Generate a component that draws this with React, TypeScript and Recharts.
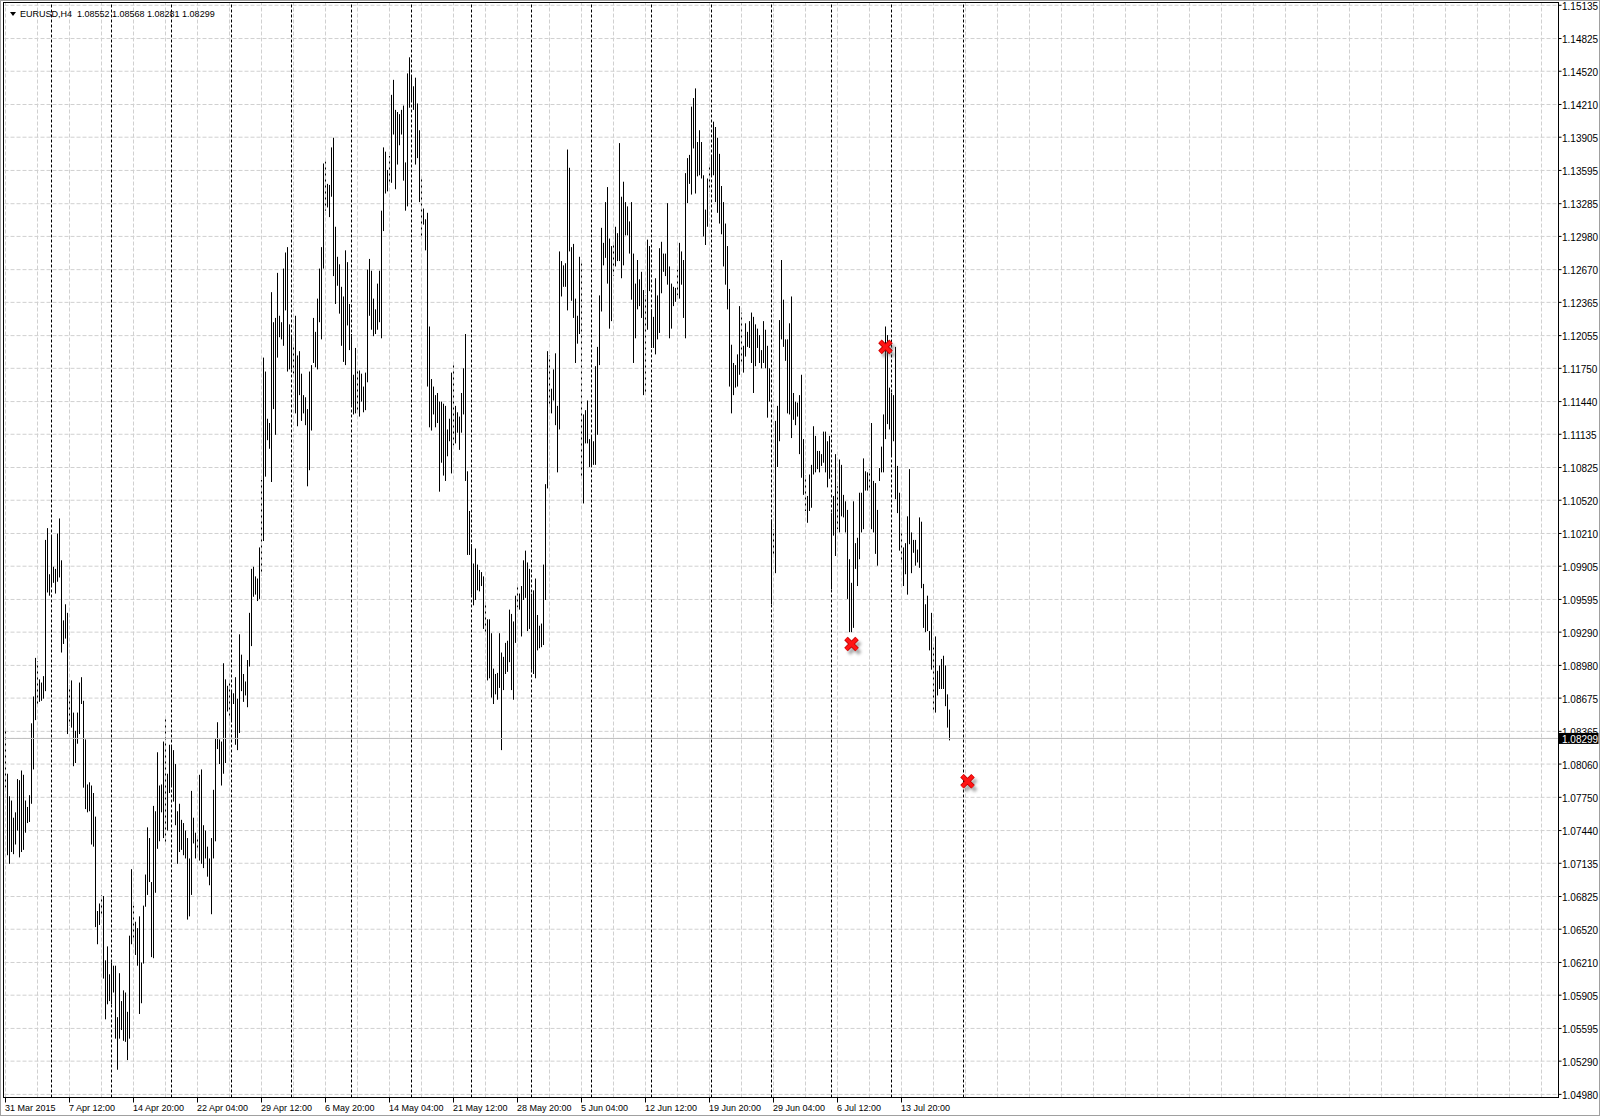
import React from 'react'
import {
  ComposedChart,
  Bar,
  Scatter,
  XAxis,
  YAxis,
  CartesianGrid,
  ReferenceLine,
} from 'recharts'

const SYMBOL = 'EURUSD,H4'
const LAST_OHLC = ['1.08552', '1.08568', '1.08281', '1.08299']
const BID = 1.08299

// H4 bars, 31 Mar 2015 04:00 .. 17 Jul 2015 20:00
const highs = [
  1.0839, 1.0797, 1.0776, 1.0772, 1.0756, 1.0761, 1.0792, 1.0791, 1.0800, 1.0796,
  1.0772, 1.0766, 1.0777, 1.0844, 1.0869, 1.0905, 1.0902, 1.0885, 1.0882, 1.0888,
  1.1015, 1.1026, 1.0983, 1.1018, 1.0990, 1.0988, 1.1021, 1.1035, 1.0996, 1.0940,
  1.0955, 1.0947, 1.0879, 1.0884, 1.0854, 1.0837, 1.0854, 1.0882, 1.0887, 1.0865,
  1.0829, 1.0787, 1.0789, 1.0786, 1.0779, 1.0757, 1.0669, 1.0676, 1.0684, 1.0683,
  1.0623, 1.0636, 1.0610, 1.0621, 1.0618, 1.0618, 1.0570, 1.0611, 1.0585, 1.0595,
  1.0593, 1.0575, 1.0646, 1.0708, 1.0674, 1.0659, 1.0653, 1.0664, 1.0621, 1.0674,
  1.0703, 1.0747, 1.0737, 1.0696, 1.0767, 1.0762, 1.0817, 1.0786, 1.0787, 1.0827,
  1.0849, 1.0797, 1.0824, 1.0822, 1.0819, 1.0806, 1.0762, 1.0769, 1.0754, 1.0751,
  1.0744, 1.0737, 1.0718, 1.0781, 1.0756, 1.0742, 1.0739, 1.0796, 1.0801, 1.0749,
  1.0744, 1.0729, 1.0718, 1.0737, 1.0782, 1.0830, 1.0845, 1.0829, 1.0827, 1.0900,
  1.0885, 1.0879, 1.0884, 1.0874, 1.0872, 1.0887, 1.0867, 1.0927, 1.0908, 1.0890,
  1.0883, 1.0903, 1.0947, 1.0988, 1.0990, 1.0981, 1.0979, 1.1008, 1.1071, 1.1185,
  1.1172, 1.1128, 1.1124, 1.1246, 1.1218, 1.1222, 1.1264, 1.1224, 1.1218, 1.1268,
  1.1283, 1.1288, 1.1216, 1.1205, 1.1196, 1.1224, 1.1187, 1.1191, 1.1170, 1.1150,
  1.1148, 1.1137, 1.1172, 1.1178, 1.1222, 1.1209, 1.1240, 1.1268, 1.1288, 1.1366,
  1.1368, 1.1347, 1.1346, 1.1381, 1.1390, 1.1307, 1.1279, 1.1272, 1.1251, 1.1242,
  1.1285, 1.1274, 1.1235, 1.1207, 1.1169, 1.1194, 1.1174, 1.1173, 1.1170, 1.1158,
  1.1171, 1.1267, 1.1277, 1.1266, 1.1240, 1.1230, 1.1254, 1.1266, 1.1322, 1.1381,
  1.1377, 1.1360, 1.1373, 1.1430, 1.1444, 1.1416, 1.1414, 1.1412, 1.1416, 1.1420,
  1.1367, 1.1450, 1.1465, 1.1448, 1.1438, 1.1446, 1.1422, 1.1397, 1.1354, 1.1324,
  1.1314, 1.1320, 1.1214, 1.1165, 1.1158, 1.1150, 1.1152, 1.1144, 1.1144, 1.1142,
  1.1140, 1.1118, 1.1128, 1.1171, 1.1179, 1.1140, 1.1134, 1.1130, 1.1152, 1.1175,
  1.1207, 1.1079, 1.1042, 1.1011, 1.0993, 1.1007, 1.0992, 1.0987, 1.0985, 1.0981,
  1.0957, 1.0941, 1.0941, 1.0928, 1.0895, 1.0890, 1.0891, 1.0928, 1.0910, 1.0906,
  1.0919, 1.0921, 1.0950, 1.0946, 1.0939, 1.0963, 1.0974, 1.0965, 1.0972, 1.0996,
  1.1005, 1.0994, 1.0988, 1.0965, 1.0968, 1.0979, 1.0945, 1.0935, 1.0937, 1.0992,
  1.1067, 1.1191, 1.1187, 1.1156, 1.1174, 1.1189, 1.1140, 1.1284, 1.1275, 1.1271,
  1.1273, 1.1379, 1.1362, 1.1288, 1.1291, 1.1240, 1.1224, 1.1279, 1.1273, 1.1132,
  1.1136, 1.1145, 1.1109, 1.1112, 1.1107, 1.1177, 1.1195, 1.1243, 1.1306, 1.1292,
  1.1330, 1.1344, 1.1296, 1.1289, 1.1290, 1.1307, 1.1301, 1.1385, 1.1335, 1.1349,
  1.1330, 1.1326, 1.1312, 1.1330, 1.1282, 1.1254, 1.1276, 1.1258, 1.1265, 1.1248,
  1.1243, 1.1295, 1.1289, 1.1230, 1.1223, 1.1259, 1.1243, 1.1287, 1.1293, 1.1282,
  1.1282, 1.1329, 1.1270, 1.1254, 1.1251, 1.1250, 1.1267, 1.1292, 1.1284, 1.1276,
  1.1357, 1.1371, 1.1374, 1.1419, 1.1427, 1.1436, 1.1386, 1.1397, 1.1386, 1.1355,
  1.1323, 1.1352, 1.1365, 1.1374, 1.1405, 1.1400, 1.1390, 1.1375, 1.1345, 1.1330,
  1.1310, 1.1289, 1.1249, 1.1197, 1.1180, 1.1178, 1.1188, 1.1233, 1.1227, 1.1196,
  1.1217, 1.1209, 1.1219, 1.1227, 1.1223, 1.1216, 1.1212, 1.1206, 1.1192, 1.1219,
  1.1211, 1.1196, 1.1175, 1.1034, 1.1025, 1.1126, 1.1140, 1.1220, 1.1276, 1.1239,
  1.1202, 1.1202, 1.1217, 1.1242, 1.1152, 1.1144, 1.1143, 1.1150, 1.1169, 1.1109,
  1.1075, 1.1056, 1.1076, 1.1085, 1.1121, 1.1112, 1.1098, 1.1098, 1.1095, 1.1116,
  1.1116, 1.1107, 1.1112, 1.1040, 1.1056, 1.1095, 1.1065, 1.1090, 1.1085, 1.1057,
  1.1051, 1.1043, 1.0997, 1.0975, 1.1051, 1.1012, 1.1017, 1.1059, 1.1059, 1.1091,
  1.1079, 1.1078, 1.1081, 1.1124, 1.1070, 1.1068, 1.1043, 1.1082, 1.1102, 1.1132,
  1.1214, 1.1206, 1.1157, 1.1152, 1.1150, 1.1195, 1.1084, 1.1059, 1.1023, 1.1008,
  1.1012, 1.1037, 1.1081, 1.1022, 1.1015, 1.1015, 1.1006, 1.1036, 1.1032, 1.0974,
  1.0955, 1.0963, 1.0930, 1.0947, 1.0915, 1.0925, 1.0893, 1.0898, 1.0904, 1.0907,
  1.0898, 1.0871, 1.08568,
]

const lows = [
  1.0784, 1.0721, 1.0713, 1.0724, 1.0722, 1.0731, 1.0744, 1.0719, 1.0724, 1.0726,
  1.0742, 1.0751, 1.0752, 1.0769, 1.0801, 1.0847, 1.0862, 1.0864, 1.0865, 1.0867,
  1.0874, 1.0966, 1.0963, 1.0973, 1.0975, 1.0965, 1.0976, 1.0980, 1.0910, 1.0918,
  1.0923, 1.0834, 1.0842, 1.0840, 1.0804, 1.0807, 1.0825, 1.0834, 1.0862, 1.0784,
  1.0764, 1.0761, 1.0762, 1.0731, 1.0729, 1.0654, 1.0638, 1.0656, 1.0666, 1.0606,
  1.0568, 1.0582, 1.0585, 1.0582, 1.0593, 1.0550, 1.0521, 1.0550, 1.0558, 1.0548,
  1.0547, 1.0530, 1.0550, 1.0638, 1.0644, 1.0628, 1.0618, 1.0573, 1.0583, 1.0620,
  1.0673, 1.0684, 1.0696, 1.0626, 1.0625, 1.0686, 1.0727, 1.0734, 1.0761, 1.0737,
  1.0732, 1.0744, 1.0779, 1.0786, 1.0771, 1.0749, 1.0713, 1.0724, 1.0726, 1.0721,
  1.0718, 1.0661, 1.0664, 1.0684, 1.0732, 1.0718, 1.0726, 1.0716, 1.0713, 1.0709,
  1.0718, 1.0701, 1.0693, 1.0666, 1.0718, 1.0734, 1.0820, 1.0806, 1.0786, 1.0797,
  1.0807, 1.0855, 1.0850, 1.0847, 1.0862, 1.0824, 1.0819, 1.0835, 1.0874, 1.0864,
  1.0870, 1.0859, 1.0897, 1.0916, 1.0962, 1.0964, 1.0958, 1.0960, 1.0982, 1.1014,
  1.1074, 1.1108, 1.1100, 1.1069, 1.1137, 1.1113, 1.1185, 1.1204, 1.1202, 1.1196,
  1.1229, 1.1172, 1.1174, 1.1174, 1.1170, 1.1133, 1.1121, 1.1150, 1.1126, 1.1133,
  1.1122, 1.1065, 1.1080, 1.1117, 1.1180, 1.1176, 1.1174, 1.1218, 1.1202, 1.1268,
  1.1322, 1.1325, 1.1316, 1.1335, 1.1261, 1.1235, 1.1252, 1.1226, 1.1196, 1.1181,
  1.1178, 1.1215, 1.1192, 1.1141, 1.1132, 1.1133, 1.1135, 1.1130, 1.1144, 1.1134,
  1.1136, 1.1162, 1.1224, 1.1211, 1.1205, 1.1207, 1.1211, 1.1218, 1.1203, 1.1303,
  1.1338, 1.1340, 1.1346, 1.1348, 1.1393, 1.1342, 1.1365, 1.1383, 1.1393, 1.1350,
  1.1322, 1.1326, 1.1418, 1.1424, 1.1416, 1.1365, 1.1371, 1.1330, 1.1297, 1.1309,
  1.1285, 1.1158, 1.1120, 1.1117, 1.1132, 1.1120, 1.1124, 1.1060, 1.1087, 1.1075,
  1.1070, 1.1093, 1.1107, 1.1077, 1.1103, 1.1105, 1.1115, 1.1099, 1.1115, 1.1132,
  1.1070, 1.1001, 1.1001, 1.0964, 1.0954, 1.0959, 1.0968, 1.0967, 1.0972, 1.0932,
  1.0928, 1.0884, 1.0886, 1.0868, 1.0862, 1.0871, 1.0866, 1.0877, 1.0819, 1.0875,
  1.0890, 1.0892, 1.0901, 1.0875, 1.0866, 1.0919, 1.0952, 1.0950, 1.0925, 1.0959,
  1.0961, 1.0930, 1.0932, 1.0894, 1.0890, 1.0886, 1.0912, 1.0914, 1.0915, 1.0917,
  1.0959, 1.1063, 1.1140, 1.1133, 1.1145, 1.1122, 1.1078, 1.1118, 1.1242, 1.1251,
  1.1251, 1.1229, 1.1284, 1.1238, 1.1222, 1.1180, 1.1198, 1.1207, 1.1074, 1.1049,
  1.1105, 1.1105, 1.1083, 1.1084, 1.1085, 1.1085, 1.1113, 1.1178, 1.1228, 1.1271,
  1.1278, 1.1254, 1.1212, 1.1219, 1.1261, 1.1270, 1.1275, 1.1275, 1.1259, 1.1271,
  1.1299, 1.1299, 1.1282, 1.1239, 1.1180, 1.1203, 1.1230, 1.1233, 1.1222, 1.1150,
  1.1152, 1.1211, 1.1247, 1.1194, 1.1194, 1.1188, 1.1202, 1.1208, 1.1245, 1.1265,
  1.1261, 1.1253, 1.1203, 1.1212, 1.1233, 1.1237, 1.1243, 1.1240, 1.1253, 1.1222,
  1.1203, 1.1329, 1.1347, 1.1337, 1.1380, 1.1338, 1.1354, 1.1355, 1.1352, 1.1298,
  1.1290, 1.1307, 1.1340, 1.1355, 1.1355, 1.1330, 1.1320, 1.1310, 1.1300, 1.1270,
  1.1253, 1.1230, 1.1158, 1.1133, 1.1150, 1.1157, 1.1158, 1.1169, 1.1179, 1.1171,
  1.1186, 1.1195, 1.1194, 1.1180, 1.1152, 1.1177, 1.1194, 1.1180, 1.1175, 1.1180,
  1.1175, 1.1129, 1.1144, 1.0955, 1.0999, 1.0984, 1.1083, 1.1107, 1.1202, 1.1195,
  1.1182, 1.1133, 1.1132, 1.1110, 1.1127, 1.1122, 1.1130, 1.1095, 1.1073, 1.1057,
  1.1042, 1.1031, 1.1042, 1.1045, 1.1076, 1.1078, 1.1081, 1.1078, 1.1084, 1.1087,
  1.1078, 1.1064, 1.1072, 1.0969, 1.1019, 1.1000, 1.1025, 1.1022, 1.1037, 1.1036,
  1.1022, 1.0960, 1.0929, 1.0929, 1.0933, 1.0988, 1.0972, 1.0997, 1.1022, 1.1025,
  1.1061, 1.1061, 1.1062, 1.1025, 1.1022, 1.1002, 1.0991, 1.1070, 1.1078, 1.1078,
  1.1109, 1.1123, 1.1118, 1.1093, 1.1107, 1.1053, 1.1040, 1.1005, 1.0995, 1.0972,
  1.0983, 1.0964, 1.1011, 1.0984, 1.1003, 1.0991, 1.0994, 1.0989, 1.0970, 1.0933,
  1.0929, 1.0930, 1.0912, 1.0894, 1.0854, 1.0854, 1.0870, 1.0876, 1.0876, 1.0876,
  1.0860, 1.0840, 1.08281,
]

const priceTicks = [
  1.15135, 1.14825, 1.1452, 1.1421, 1.13905, 1.13595, 1.13285, 1.1298, 1.1267,
  1.12365, 1.12055, 1.1175, 1.1144, 1.11135, 1.10825, 1.1052, 1.1021, 1.09905,
  1.09595, 1.0929, 1.0898, 1.08675, 1.08365, 1.0806, 1.0775, 1.0744, 1.07135,
  1.06825, 1.0652, 1.0621, 1.05905, 1.05595, 1.0529, 1.0498,
]

// bar index of each time label
const labelBars = [0, 32, 64, 96, 128, 160, 192, 224, 256, 288, 320, 352, 384, 416, 448]
const timeLabels = [
  '31 Mar 2015', '7 Apr 12:00', '14 Apr 20:00', '22 Apr 04:00', '29 Apr 12:00',
  '6 May 20:00', '14 May 04:00', '21 May 12:00', '28 May 20:00', '5 Jun 04:00',
  '12 Jun 12:00', '19 Jun 20:00', '29 Jun 04:00', '6 Jul 12:00', '13 Jul 20:00',
]

// Monday 00:00 bars (period separators)
const weekStarts = [23, 53, 83, 113, 143, 173, 203, 233, 263, 293, 323, 353, 383, 413, 443]
const userLineBar = 479

const markBars = [423, 440, 481]
const markPrices = [1.0918, 1.1195, 1.079]

const TOTAL_SLOTS = 777
const gridBars = Array.from({ length: 49 }, (_, k) => k * 16)

const bars = highs.map((h, i) => ({ i, range: [lows[i], h] }))
const marks = markBars.map((i, k) => ({ i, p: markPrices[k] }))

const GRID = '#d0d0d0'

function HiLoBar(props: any) {
  const { x, y, width, height } = props
  if (x == null || y == null) return null
  const top = Math.min(y, y + height)
  const h = Math.max(Math.abs(height), 1)
  return <rect x={Math.floor(x + width / 2 + 0.25)} y={top} width={1} height={h} fill="#000" />
}

function CrossMark(props: any) {
  const { cx, cy } = props
  if (cx == null || cy == null) return null
  const s = 5.5
  const d = (ox: number, oy: number) =>
    `M${cx - s + ox},${cy - s + oy}L${cx + s + ox},${cy + s + oy}` +
    `M${cx + s + ox},${cy - s + oy}L${cx - s + ox},${cy + s + oy}`
  return (
    <g>
      <defs>
        <filter id="markShadow" x="-50%" y="-50%" width="200%" height="200%">
          <feGaussianBlur stdDeviation="1.4" />
        </filter>
      </defs>
      <path d={d(3, 4)} stroke="#555" strokeWidth={4.5} opacity={0.5} filter="url(#markShadow)" />
      <path d={d(0, 0)} stroke="#c00000" strokeWidth={5} />
      <path d={d(0, 0)} stroke="#ff1414" strokeWidth={3.4} />
    </g>
  )
}

function PriceTick(props: any) {
  const { x, y, payload } = props
  const v = payload.value
  if (v === BID) {
    return (
      <g>
        <rect x={x} y={y - 5.5} width={40} height={11} fill="#000" />
        <text x={x + 3.5} y={y + 1} dy="0.35em" fontSize={10} fill="#fff">
          {v.toFixed(5)}
        </text>
      </g>
    )
  }
  return (
    <g>
      <line x1={x} x2={x + 3} y1={y} y2={y} stroke="#000" />
      <text x={x + 3.5} y={y + 1} dy="0.35em" fontSize={10} fill="#000">
        {v.toFixed(5)}
      </text>
    </g>
  )
}

function TimeTick(props: any) {
  const { x, y, payload } = props
  const k = labelBars.indexOf(payload.value)
  return (
    <g>
      <line x1={x} x2={x} y1={y} y2={y + 5} stroke="#000" />
      <text x={x - 0.5} y={y + 13} fontSize={9} fill="#000">
        {timeLabels[k]}
      </text>
    </g>
  )
}

export default function App() {
  return (
    <div
      style={{
        position: 'relative',
        width: 1600,
        height: 1118,
        background: '#fff',
        fontFamily: '"Liberation Sans", Arial, sans-serif',
      }}
    >
      <style>{'body{margin:0}'}</style>
      <ComposedChart
        width={1600}
        height={1118}
        data={bars}
        margin={{ top: 2.5, right: 0, bottom: 0, left: 4.5 }}
      >
        <CartesianGrid vertical={false} stroke={GRID} strokeDasharray="4 2" />
        <XAxis
          dataKey="i"
          type="number"
          domain={[-0.5, TOTAL_SLOTS - 0.5]}
          ticks={labelBars}
          interval={0}
          allowDataOverflow
          height={20.5}
          axisLine={false}
          tickLine={false}
          tickSize={0}
          tickMargin={0}
          tick={<TimeTick />}
        />
        <YAxis
          orientation="right"
          type="number"
          domain={[1.04951, 1.15161]}
          ticks={[...priceTicks, BID]}
          interval={0}
          allowDataOverflow
          width={41.5}
          axisLine={false}
          tickLine={false}
          tickSize={0}
          tickMargin={0}
          tick={<PriceTick />}
        />
        {gridBars.map((i) => (
          <ReferenceLine key={`g${i}`} x={i} stroke={GRID} strokeDasharray="4 2" />
        ))}
        <ReferenceLine y={BID} stroke="#c0c0c0" />
        {weekStarts.map((i) => (
          <ReferenceLine key={`w${i}`} x={i} stroke="#000" strokeDasharray="3 2" />
        ))}
        <ReferenceLine x={userLineBar} stroke="#000" strokeDasharray="3 2" />
        <Bar dataKey="range" barSize={1} isAnimationActive={false} shape={HiLoBar} />
        <Scatter data={marks} dataKey="p" isAnimationActive={false} shape={CrossMark} />
      </ComposedChart>

      {/* chart window frame and plot frame */}
      <div
        style={{
          position: 'absolute',
          left: 0,
          top: 0,
          width: 1600,
          height: 1116,
          border: '1px solid #a0a0a0',
          boxSizing: 'border-box',
          pointerEvents: 'none',
        }}
      />
      <div
        style={{
          position: 'absolute',
          left: 3,
          top: 2,
          width: 1556,
          height: 1096,
          border: '1px solid #000',
          boxSizing: 'border-box',
          pointerEvents: 'none',
        }}
      />
      <svg
        width={400}
        height={24}
        style={{ position: 'absolute', left: 0, top: 0, pointerEvents: 'none' }}
      >
        <polygon points="10,12 16,12 13,16" fill="#000" />
        <text x={20} y={17} fontSize={9} fill="#000" xmlSpace="preserve" style={{ whiteSpace: 'pre' }}>
          {`${SYMBOL}  ${LAST_OHLC.join(' ')}`}
        </text>
      </svg>
    </div>
  )
}
